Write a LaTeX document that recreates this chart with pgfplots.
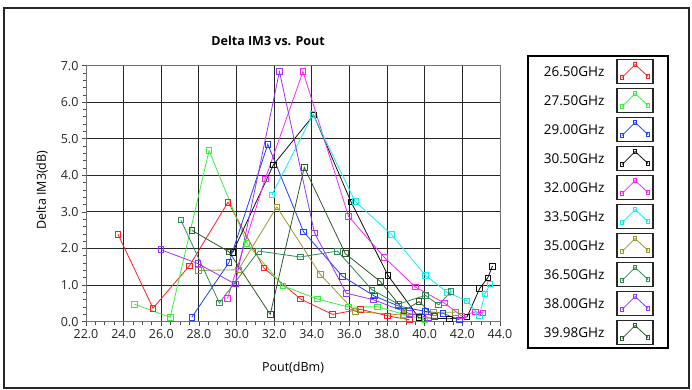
\documentclass[border=0pt]{standalone}
\usepackage{pgfplots}
\pgfplotsset{compat=1.18}
\usepackage{fontspec}
\setmainfont{Open Sans}
\definecolor{cRed}{HTML}{FF2020}
\definecolor{cGreen}{HTML}{3AEE3A}
\definecolor{cBlue}{HTML}{2040FF}
\definecolor{cBlack}{HTML}{101010}
\definecolor{cMag}{HTML}{FF22FF}
\definecolor{cCyan}{HTML}{10F0F0}
\definecolor{cOlive}{HTML}{9A9A2A}
\definecolor{cSea}{HTML}{2E8B57}
\definecolor{cPurple}{HTML}{9933FF}
\definecolor{cDark}{HTML}{2F5A2F}
\pgfplotsset{
  s/.style={line width=0.8pt, mark=square, mark size=2.8pt, mark options={solid, line width=0.8pt}},
}
\begin{document}
\begin{tikzpicture}[x=1pt,y=1pt]
\useasboundingbox (0,0) rectangle (692,390);
\draw[line width=2pt, color=black!85] (4,2) rectangle (689,382);
\begin{axis}[
  at={(86pt,68.3pt)}, anchor=south west,
  width=414pt, height=256pt, scale only axis,
  xmin=22, xmax=44, ymin=0, ymax=7,
  xtick={22,24,...,44}, ytick={0,1,...,7},
  minor x tick num=3, minor y tick num=4,
  grid=major, major grid style={black!85, line width=1pt},
  axis line style={black!55, line width=1pt},
  tick align=outside, tick pos=left,
  major tick length=4pt, minor tick length=3pt,
  tick style={black!70, line width=0.8pt},
  /pgf/number format/.cd, fixed, fixed zerofill, precision=1, assume math mode=true,
  /pgfplots/.cd,
  ticklabel style={font=\fontsize{12.5}{14}\selectfont, text=black!85},
  title={\textbf{Delta IM3 vs. Pout}},
  title style={at={(axis description cs:0.44,1.075)}, anchor=center, font=\fontsize{12.5}{15}\selectfont},
  xlabel={Pout(dBm)},
  xlabel style={at={(axis description cs:0.5,-0.18)}, anchor=center, font=\fontsize{12.5}{15}\selectfont},
  ylabel={Delta IM3(dB)},
  ylabel style={at={(axis description cs:-0.106,0.514)}, anchor=center, rotate=0, font=\fontsize{12.5}{15}\selectfont},
  legend style={at={(axis description cs:1.0652,1.0418)}, anchor=north west, draw=black, line width=1.8pt,
    font=\fontsize{13.5}{15}\selectfont, row sep=3.8pt, inner xsep=14pt, inner ysep=3pt,
    /tikz/every odd column/.append style={column sep=10pt}},
  legend plot pos=right, legend cell align=right,
  legend image code/.code={
    \draw[black!85, line width=1.2pt, fill=white] (0pt,-11pt) rectangle (36pt,13pt);
    \draw[#1, mark size=1.8pt] plot coordinates {(5pt,-5pt) (18pt,8pt) (31pt,-4pt)};
  },
]
\addplot[s, cRed] coordinates {(23.7,2.39) (25.56,0.37) (27.5,1.53) (29.55,3.27) (31.45,1.47) (33.4,0.62) (35.1,0.2) (36.57,0.34) (38.03,0.16) (39.2,0.05)};
\addlegendentry{26.50GHz}
\addplot[s, cGreen] coordinates {(24.57,0.48) (26.47,0.12) (28.54,4.68) (30.55,2.14) (32.46,0.98) (34.3,0.62) (35.95,0.40) (37.5,0.41) (38.9,0.2) (40.0,0.05)};
\addlegendentry{27.50GHz}
\addplot[s, cBlue] coordinates {(27.62,0.12) (29.6,1.62) (31.66,4.85) (33.56,2.46) (35.63,1.24) (37.33,0.7) (38.6,0.43) (40.03,0.28) (40.97,0.23) (41.84,0.05)};
\addlegendentry{29.00GHz}
\addplot[s, cBlack] coordinates {(29.8,1.9) (31.96,4.29) (34.1,5.65) (36.08,3.28) (38.04,1.27) (39.68,0.11) (41.3,0.08) (42.25,0.13) (42.92,0.91) (43.35,1.2) (43.6,1.52)};
\addlegendentry{30.50GHz}
\addplot[s, cMag] coordinates {(29.52,0.64) (31.52,3.9) (33.53,6.84) (35.95,2.88) (37.87,1.75) (39.5,0.95) (41.04,0.51) (41.95,0.16) (42.69,0.27) (43.1,0.24)};
\addlegendentry{32.00GHz}
\addplot[s, cCyan] coordinates {(31.88,3.47) (34.06,5.67) (36.3,3.29) (38.22,2.39) (40.03,1.27) (41.2,0.8) (42.25,0.57) (42.9,0.16) (43.2,0.76) (43.47,1.03)};
\addlegendentry{33.50GHz}
\addplot[s, cOlive] coordinates {(27.97,1.4) (30.1,1.42) (32.14,3.14) (34.45,1.29) (36.3,0.28) (38.86,0.18) (40.47,0.26) (41.63,0.26)};
\addlegendentry{35.00GHz}
\addplot[s, cSea] coordinates {(27.04,2.78) (29.09,0.51) (31.17,1.93) (33.38,1.77) (35.37,1.93) (37.2,0.87) (38.6,0.48) (40.03,0.72) (40.74,0.46) (41.4,0.83)};
\addlegendentry{36.50GHz}
\addplot[s, cPurple] coordinates {(25.97,1.97) (27.94,1.59) (29.93,1.03) (32.28,6.84) (34.14,2.43) (35.83,0.78) (37.28,0.6) (39.2,0.22) (40.2,0.12)};
\addlegendentry{38.00GHz}
\addplot[s, cDark] coordinates {(27.62,2.5) (29.6,1.91) (31.79,0.2) (33.6,4.22) (35.78,1.86) (37.64,1.1) (38.9,0.3) (39.7,0.55) (40.5,0.15)};
\addlegendentry{39.98GHz}
\end{axis}
\end{tikzpicture}
\end{document}
